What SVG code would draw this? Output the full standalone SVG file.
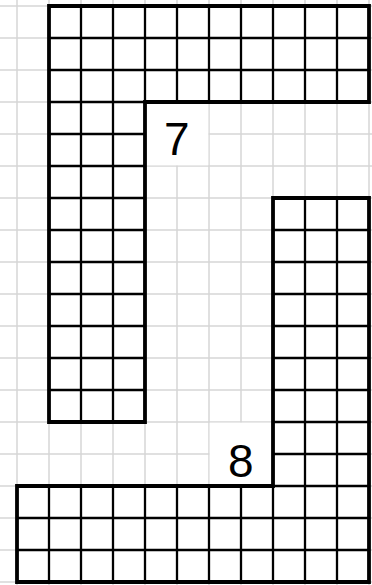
<svg xmlns="http://www.w3.org/2000/svg" width="372" height="585" viewBox="0 0 372 585">
<style>
.bg{fill:#fff}
.light{stroke:#d6d6d6;stroke-width:1.5;fill:none}
.cell{stroke:#000;stroke-width:2.3;fill:none}
.outline{stroke:#000;stroke-width:3.8;fill:none;stroke-linejoin:miter}
.fill{fill:#fff}
.lbl{font-family:"Liberation Sans",Arial,sans-serif;font-size:46px;fill:#000}
</style>
<defs>
<clipPath id="c1"><path d="M49 6H369V102H145V422H49Z"/></clipPath>
<clipPath id="c2"><path d="M273 198H369V582H17V486H273Z"/></clipPath>
</defs>
<rect class="bg" x="0" y="0" width="372" height="585"/>
<g id="background-grid">
<path class="light" d="M17 0V585M49 0V585M81 0V585M113 0V585M145 0V585M177 0V585M209 0V585M241 0V585M273 0V585M305 0V585M337 0V585M369 0V585M0 6H372M0 38H372M0 70H372M0 102H372M0 134H372M0 166H372M0 198H372M0 230H372M0 262H372M0 294H372M0 326H372M0 358H372M0 390H372M0 422H372M0 454H372M0 486H372M0 518H372M0 550H372M0 582H372"/>
<rect class="bg" x="145" y="102" width="63.3" height="63.3"/>
<rect class="bg" x="209.7" y="422.7" width="63.3" height="63.3"/>
</g>
<g id="shape-7">
<path class="fill" d="M49 6H369V102H145V422H49Z"/>
<path class="cell" clip-path="url(#c1)" d="M81 0V430M113 0V430M145 0V430M177 0V430M209 0V430M241 0V430M273 0V430M305 0V430M337 0V430M40 38H372M40 70H372M40 102H372M40 134H372M40 166H372M40 198H372M40 230H372M40 262H372M40 294H372M40 326H372M40 358H372M40 390H372"/>
<path class="outline" d="M49 6H369V102H145V422H49Z"/>
<text class="lbl" x="164" y="155">7</text>
</g>
<g id="shape-8">
<path class="fill" d="M273 198H369V582H17V486H273Z"/>
<path class="cell" clip-path="url(#c2)" d="M49 190V585M81 190V585M113 190V585M145 190V585M177 190V585M209 190V585M241 190V585M273 190V585M305 190V585M337 190V585M10 230H372M10 262H372M10 294H372M10 326H372M10 358H372M10 390H372M10 422H372M10 454H372M10 486H372M10 518H372M10 550H372"/>
<path class="outline" d="M273 198H369V582H17V486H273Z"/>
<text class="lbl" x="228" y="476.5">8</text>
</g>
<g id="connectors"/>
</svg>
